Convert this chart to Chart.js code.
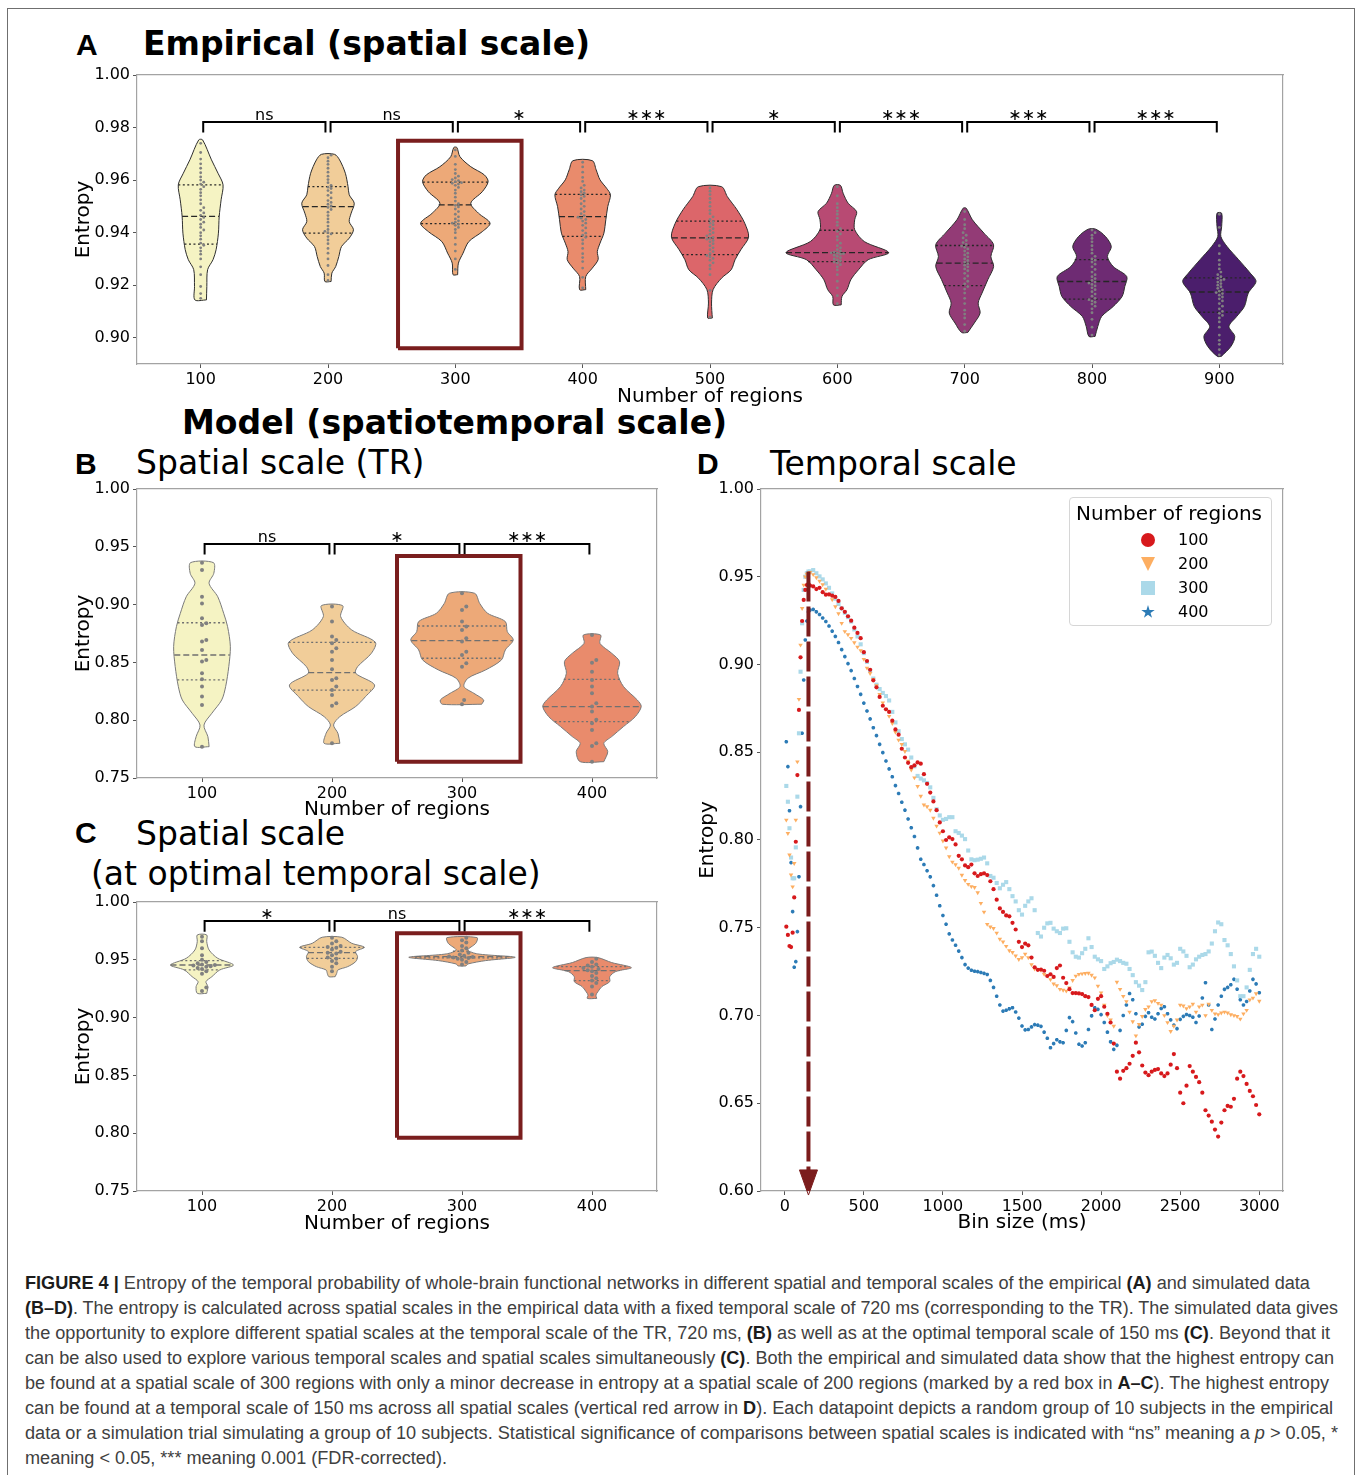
<!DOCTYPE html>
<html>
<head>
<meta charset="utf-8">
<title>Figure 4</title>
<script src="https://cdn.jsdelivr.net/npm/chart.js@4.4.1/dist/chart.umd.min.js"></script>
<style>
  html, body { margin:0; padding:0; background:#fff; }
  body { position:relative; width:1358px; height:1475px; overflow:hidden; font-family:"DejaVu Sans", sans-serif; color:#000; }
  .abs { position:absolute; white-space:nowrap; line-height:1; }
  .frame { position:absolute; left:7px; top:8px; width:1348px; height:1500px; border:1px solid #6f6f6f; box-sizing:border-box; }
  .plabel { font-family:"Liberation Sans", Arial, sans-serif; font-weight:bold; font-size:30px; }
  .ptitle { font-size:33px; }
  .bold { font-weight:bold; }
  canvas { position:absolute; }
  .cap { position:absolute; left:25px; font-family:"Liberation Sans", Arial, sans-serif; font-size:18px; color:#404040; white-space:nowrap; line-height:1; transform-origin:0 0; }
  .cap b { color:#1c1c1c; }
  #legend { position:absolute; left:1069px; top:497px; width:203px; height:129px; border:1px solid #d6d6d6; border-radius:4px; box-sizing:border-box; background:rgba(255,255,255,0.85); }
  .lg { position:absolute; font-size:16px; line-height:1; white-space:nowrap; }
  .mk { position:absolute; width:14px; height:14px; }
</style>
</head>
<body>
<div class="frame"></div>

<div class="abs plabel" style="left:76px; top:30px;">A</div>
<div class="abs ptitle bold" style="left:143px; top:27px;">Empirical (spatial scale)</div>
<div class="abs ptitle bold" style="left:182px; top:406px;">Model (spatiotemporal scale)</div>
<div class="abs plabel" style="left:75px; top:449px;">B</div>
<div class="abs ptitle" style="left:136px; top:446px;">Spatial scale (TR)</div>
<div class="abs plabel" style="left:75px; top:818px;">C</div>
<div class="abs ptitle" style="left:136px; top:817px;">Spatial scale</div>
<div class="abs ptitle" style="left:91px; top:857px;">(at optimal temporal scale)</div>
<div class="abs plabel" style="left:697px; top:449px;">D</div>
<div class="abs ptitle" style="left:770px; top:447px;">Temporal scale</div>

<canvas id="chartA" width="1240" height="360" style="left:60px; top:55px;"></canvas>
<canvas id="chartB" width="615" height="355" style="left:60px; top:470px;"></canvas>
<canvas id="chartC" width="615" height="355" style="left:60px; top:885px;"></canvas>
<canvas id="chartD" width="610" height="770" style="left:690px; top:470px;"></canvas>

<div id="legend">
  <div class="lg" style="left:6px; top:5px; font-size:20px;">Number of regions</div>
  <div class="mk" style="left:71px; top:35px; border-radius:50%; background:#d7191c;"></div>
  <div class="lg" style="left:108px; top:34px;">100</div>
  <div class="mk" style="left:71px; top:59px; background:#fdae61; clip-path:polygon(0 0,100% 0,50% 100%);"></div>
  <div class="lg" style="left:108px; top:58px;">200</div>
  <div class="mk" style="left:71px; top:83px; background:#abd9e9;"></div>
  <div class="lg" style="left:108px; top:82px;">300</div>
  <div class="mk" style="left:71px; top:107px; background:#2c7bb6; clip-path:polygon(50% 0,61% 35%,98% 35%,68% 57%,79% 91%,50% 70%,21% 91%,32% 57%,2% 35%,39% 35%);"></div>
  <div class="lg" style="left:108px; top:106px;">400</div>
</div>

<div class="cap" id="cap0" style="top:1274px;"><b>FIGURE 4 |</b> Entropy of the temporal probability of whole-brain functional networks in different spatial and temporal scales of the empirical <b>(A)</b> and simulated data</div>
<div class="cap" id="cap1" style="top:1299px;"><b>(B–D)</b>. The entropy is calculated across spatial scales in the empirical data with a fixed temporal scale of 720 ms (corresponding to the TR). The simulated data gives</div>
<div class="cap" id="cap2" style="top:1324px;">the opportunity to explore different spatial scales at the temporal scale of the TR, 720 ms, <b>(B)</b> as well as at the optimal temporal scale of 150 ms <b>(C)</b>. Beyond that it</div>
<div class="cap" id="cap3" style="top:1349px;">can be also used to explore various temporal scales and spatial scales simultaneously <b>(C)</b>. Both the empirical and simulated data show that the highest entropy can</div>
<div class="cap" id="cap4" style="top:1374px;">be found at a spatial scale of 300 regions with only a minor decrease in entropy at a spatial scale of 200 regions (marked by a red box in <b>A–C</b>). The highest entropy</div>
<div class="cap" id="cap5" style="top:1399px;">can be found at a temporal scale of 150 ms across all spatial scales (vertical red arrow in <b>D</b>). Each datapoint depicts a random group of 10 subjects in the empirical</div>
<div class="cap" id="cap6" style="top:1424px;">data or a simulation trial simulating a group of 10 subjects. Statistical significance of comparisons between spatial scales is indicated with “ns” meaning a <i>p</i> &gt; 0.05, *</div>
<div class="cap" id="cap7" style="top:1449px;">meaning &lt; 0.05, *** meaning 0.001 (FDR-corrected).</div>

<script>
// ===================== DATA =====================
// ---- Panel A: empirical, spatial scale ----
const A_CATS = [100, 200, 300, 400, 500, 600, 700, 800, 900];
const A_XTICKS = [100, 200, 300, 400, 500, 600, 700, 800, 900];
const A_YTICKS = [0.90, 0.92, 0.94, 0.96, 0.98, 1.00];
const A_COLORS = ['#f5f3c3', '#f1cd99', '#eda978', '#e98b6c', '#dc666a', '#b84a73', '#933b76', '#6e2b73', '#4b1e6c'];
// density outline of each violin: entropy levels (bottom -> top) and relative density at each level
const A_PROF_Y = [
  [0.9144,0.9195,0.9259,0.9297,0.9335,0.9398,0.9461,0.9525,0.9582,0.9626,0.9677,0.9753],
  [0.9214,0.9246,0.9271,0.9309,0.9347,0.9379,0.9411,0.9442,0.9474,0.9512,0.9544,0.9575,0.9626,0.9677,0.9698],
  [0.9240,0.9284,0.9322,0.9366,0.9404,0.9436,0.9474,0.9512,0.9556,0.9594,0.9620,0.9651,0.9689,0.9724],
  [0.9183,0.9233,0.9265,0.9297,0.9328,0.9360,0.9398,0.9449,0.9499,0.9544,0.9569,0.9601,0.9639,0.9674],
  [0.9075,0.9132,0.9183,0.9227,0.9259,0.9297,0.9335,0.9383,0.9436,0.9487,0.9537,0.9575],
  [0.9125,0.9157,0.9183,0.9221,0.9259,0.9297,0.9324,0.9366,0.9411,0.9449,0.9480,0.9512,0.9550,0.9580],
  [0.9020,0.9056,0.9094,0.9132,0.9170,0.9221,0.9271,0.9309,0.9354,0.9398,0.9449,0.9493],
  [0.9005,0.9043,0.9081,0.9119,0.9157,0.9195,0.9233,0.9271,0.9309,0.9347,0.9385,0.9413],
  [0.8929,0.8967,0.9005,0.9043,0.9081,0.9119,0.9170,0.9214,0.9246,0.9297,0.9347,0.9385,0.9423,0.9474]
];
const A_PROF_D = [
  [0.15,0.16,0.18,0.32,0.40,0.46,0.48,0.53,0.58,0.45,0.28,0.05],
  [0.08,0.10,0.20,0.28,0.35,0.55,0.66,0.55,0.60,0.68,0.55,0.52,0.45,0.30,0.17],
  [0.06,0.08,0.20,0.35,0.70,0.90,0.60,0.40,0.70,0.85,0.75,0.40,0.12,0.04],
  [0.08,0.08,0.25,0.40,0.38,0.45,0.55,0.60,0.65,0.72,0.62,0.45,0.35,0.25],
  [0.06,0.04,0.08,0.30,0.55,0.65,0.80,1.00,0.90,0.70,0.45,0.30],
  [0.10,0.12,0.25,0.35,0.55,0.80,1.33,0.70,0.45,0.45,0.50,0.28,0.15,0.08],
  [0.08,0.25,0.40,0.35,0.45,0.60,0.75,0.68,0.75,0.50,0.20,0.04],
  [0.08,0.15,0.25,0.55,0.78,0.85,0.90,0.55,0.40,0.50,0.35,0.10],
  [0.05,0.30,0.40,0.25,0.45,0.65,0.75,0.95,0.80,0.50,0.20,0.04,0.06,0.06]
];
const A_QUART = [
  [0.9356,0.9462,0.9582],[0.9398,0.9499,0.9575],[0.9434,0.9506,0.9592],
  [0.9386,0.9461,0.9546],[0.9316,0.9380,0.9444],[0.9290,0.9324,0.9409],
  [0.9198,0.9284,0.9351],[0.9147,0.9214,0.9297],[0.9097,0.9174,0.9228]
];
const A_POINTS = [
  [0.9150,0.9168,0.9195,0.9240,0.9270,0.9300,0.9318,0.9330,0.9342,0.9352,0.9360,0.9375,0.9388,0.9400,0.9410,0.9420,0.9432,0.9440,0.9450,0.9458,0.9466,0.9475,0.9485,0.9495,0.9510,0.9525,0.9540,0.9552,0.9565,0.9575,0.9585,0.9592,0.9600,0.9612,0.9628,0.9645,0.9662,0.9680,0.9705,0.9740],
  [0.9218,0.9240,0.9275,0.9300,0.9322,0.9340,0.9358,0.9372,0.9385,0.9395,0.9400,0.9405,0.9412,0.9425,0.9440,0.9452,0.9465,0.9478,0.9488,0.9496,0.9502,0.9508,0.9515,0.9522,0.9532,0.9542,0.9552,0.9560,0.9568,0.9573,0.9580,0.9590,0.9602,0.9615,0.9630,0.9645,0.9660,0.9672,0.9685,0.9695],
  [0.9260,0.9300,0.9330,0.9355,0.9380,0.9400,0.9412,0.9420,0.9428,0.9432,0.9436,0.9440,0.9445,0.9452,0.9460,0.9470,0.9480,0.9490,0.9498,0.9504,0.9510,0.9520,0.9535,0.9550,0.9562,0.9572,0.9580,0.9585,0.9588,0.9590,0.9594,0.9598,0.9602,0.9608,0.9615,0.9625,0.9640,0.9660,0.9690,0.9715],
  [0.9190,0.9230,0.9265,0.9290,0.9305,0.9320,0.9340,0.9358,0.9372,0.9382,0.9390,0.9398,0.9408,0.9418,0.9428,0.9436,0.9444,0.9450,0.9455,0.9459,0.9465,0.9472,0.9480,0.9490,0.9500,0.9510,0.9520,0.9530,0.9538,0.9544,0.9550,0.9556,0.9562,0.9570,0.9580,0.9595,0.9610,0.9630,0.9650,0.9668],
  [0.9078,0.9180,0.9240,0.9262,0.9275,0.9285,0.9295,0.9302,0.9308,0.9313,0.9320,0.9328,0.9335,0.9342,0.9350,0.9358,0.9365,0.9370,0.9375,0.9378,0.9382,0.9388,0.9394,0.9400,0.9408,0.9415,0.9422,0.9430,0.9436,0.9442,0.9450,0.9460,0.9472,0.9485,0.9500,0.9515,0.9530,0.9545,0.9558,0.9570],
  [0.9130,0.9160,0.9190,0.9215,0.9240,0.9258,0.9270,0.9278,0.9284,0.9288,0.9292,0.9296,0.9300,0.9305,0.9310,0.9314,0.9318,0.9320,0.9322,0.9323,0.9326,0.9330,0.9335,0.9342,0.9350,0.9360,0.9372,0.9385,0.9395,0.9405,0.9415,0.9428,0.9440,0.9455,0.9470,0.9482,0.9495,0.9510,0.9540,0.9575],
  [0.9025,0.9050,0.9075,0.9090,0.9105,0.9130,0.9150,0.9170,0.9185,0.9195,0.9205,0.9215,0.9225,0.9235,0.9245,0.9255,0.9262,0.9270,0.9276,0.9282,0.9288,0.9294,0.9300,0.9308,0.9315,0.9322,0.9330,0.9338,0.9344,0.9349,0.9355,0.9362,0.9370,0.9380,0.9390,0.9400,0.9415,0.9430,0.9450,0.9480],
  [0.9010,0.9040,0.9070,0.9095,0.9110,0.9120,0.9128,0.9135,0.9140,0.9145,0.9150,0.9158,0.9166,0.9175,0.9183,0.9190,0.9197,0.9203,0.9208,0.9212,0.9218,0.9225,0.9232,0.9240,0.9250,0.9260,0.9270,0.9280,0.9288,0.9295,0.9300,0.9310,0.9322,0.9335,0.9350,0.9365,0.9378,0.9390,0.9400,0.9410],
  [0.8935,0.8955,0.8975,0.8990,0.9010,0.9040,0.9060,0.9075,0.9085,0.9093,0.9100,0.9110,0.9120,0.9130,0.9140,0.9148,0.9155,0.9162,0.9168,0.9172,0.9177,0.9182,0.9188,0.9194,0.9200,0.9206,0.9212,0.9218,0.9222,0.9226,0.9232,0.9240,0.9250,0.9262,0.9278,0.9295,0.9320,0.9350,0.9420,0.9470]
];
const A_PAIRS = [[100,200],[200,300],[300,400],[400,500],[500,600],[600,700],[700,800],[800,900]];
const A_SIG = ['ns','ns','∗','∗∗∗','∗','∗∗∗','∗∗∗','∗∗∗'];

// ---- Panel B: model, spatial scale at TR ----
const B_CATS = [100, 200, 300, 400];
const B_XTICKS = [100, 200, 300, 400];
const B_YTICKS = [0.75, 0.80, 0.85, 0.90, 0.95, 1.00];
const B_COLORS = ['#f5f3c3', '#f1cd99', '#eda978', '#e98b6c'];
const B_PROF_Y = [
  [0.7771,0.7857,0.7958,0.8060,0.8175,0.8290,0.8463,0.8636,0.8809,0.8925,0.9068,0.9184,0.9271,0.9363],
  [0.7800,0.7887,0.7959,0.8031,0.8118,0.8204,0.8305,0.8406,0.8463,0.8579,0.8674,0.8781,0.8896,0.8991],
  [0.8138,0.8175,0.8233,0.8291,0.8363,0.8435,0.8521,0.8608,0.8694,0.8766,0.8853,0.8925,0.9010,0.9098],
  [0.7641,0.7728,0.7800,0.7858,0.7945,0.8031,0.8118,0.8175,0.8291,0.8406,0.8507,0.8579,0.8665,0.8737]
];
const B_PROF_D = [
  [0.18,0.15,0.05,0.25,0.50,0.60,0.68,0.72,0.65,0.55,0.40,0.18,0.30,0.29],
  [0.20,0.15,0.04,0.20,0.60,0.85,1.08,0.60,0.65,1.00,1.10,0.50,0.22,0.27],
  [0.50,0.55,0.30,0.05,0.15,0.60,1.00,1.10,1.30,1.15,1.10,0.65,0.45,0.32],
  [0.30,0.40,0.30,0.50,0.80,1.10,1.25,1.15,0.80,0.65,0.70,0.50,0.20,0.22]
];
const B_QUART = [[0.8348,0.8564,0.8843],[0.8261,0.8411,0.8674],[0.8536,0.8688,0.8815],[0.7988,0.8118,0.8354]];
const B_POINTS = [
  [0.9363,0.9299,0.9068,0.9010,0.8881,0.8838,0.8824,0.8694,0.8680,0.8608,0.8521,0.8507,0.8406,0.8354,0.8291,0.8204,0.8132,0.7771],
  [0.8983,0.8853,0.8723,0.8694,0.8665,0.8622,0.8593,0.8521,0.8440,0.8363,0.8348,0.8291,0.8262,0.8219,0.8147,0.8124,0.7800],
  [0.9098,0.8983,0.8954,0.8853,0.8810,0.8781,0.8709,0.8680,0.8593,0.8564,0.8492,0.8463,0.8175,0.8138],
  [0.8737,0.8521,0.8498,0.8420,0.8348,0.8291,0.8233,0.8147,0.8118,0.8075,0.8003,0.7974,0.7916,0.7800,0.7777,0.7641]
];
const B_PAIRS = [[100,200],[200,300],[300,400]];
const B_SIG = ['ns','∗','∗∗∗'];

// ---- Panel C: model, spatial scale at optimal temporal scale ----
const C_CATS = [100, 200, 300, 400];
const C_XTICKS = [100, 200, 300, 400];
const C_YTICKS = [0.75, 0.80, 0.85, 0.90, 0.95, 1.00];
const C_COLORS = ['#f5f3c3', '#f1cd99', '#eda978', '#e98b6c'];
const C_PROF_Y = [
  [0.9210,0.9268,0.9311,0.9354,0.9412,0.9455,0.9513,0.9585,0.9657,0.9715],
  [0.9354,0.9383,0.9412,0.9441,0.9484,0.9527,0.9571,0.9608,0.9643,0.9695],
  [0.9447,0.9464,0.9493,0.9522,0.9551,0.9585,0.9643,0.9692],
  [0.9166,0.9195,0.9224,0.9268,0.9311,0.9354,0.9398,0.9432,0.9476,0.9519]
];
const C_PROF_D = [
  [0.12,0.15,0.10,0.25,0.45,0.80,0.40,0.18,0.12,0.12],
  [0.08,0.12,0.15,0.40,0.60,0.65,0.60,0.82,0.50,0.25],
  [0.10,0.15,0.60,1.35,0.40,0.15,0.35,0.38],
  [0.12,0.10,0.15,0.25,0.45,0.45,0.60,1.00,0.50,0.15]
];
const C_QUART = [[0.9412,0.9455,0.9493],[0.9513,0.9562,0.9608],[0.9516,0.9527,0.9574],[0.9320,0.9406,0.9441]];
const C_POINTS = [
  [0.9700,0.9660,0.9600,0.9540,0.9500,0.9480,0.9470,0.9460,0.9455,0.9450,0.9445,0.9440,0.9430,0.9420,0.9400,0.9380,0.9260,0.9230],
  [0.9690,0.9660,0.9640,0.9620,0.9610,0.9605,0.9590,0.9570,0.9560,0.9555,0.9540,0.9520,0.9510,0.9490,0.9470,0.9440,0.9400],
  [0.9690,0.9670,0.9650,0.9620,0.9600,0.9580,0.9560,0.9545,0.9535,0.9528,0.9524,0.9520,0.9516,0.9510,0.9500,0.9480,0.9460],
  [0.9510,0.9480,0.9460,0.9450,0.9440,0.9430,0.9420,0.9410,0.9400,0.9385,0.9360,0.9340,0.9320,0.9300,0.9270,0.9200]
];
const C_PAIRS = [[100,200],[200,300],[300,400]];
const C_SIG = ['∗','ns','∗∗∗'];

// ---- Panel D: temporal scale ----
const D_XTICKS = [0, 500, 1000, 1500, 2000, 2500, 3000];
const D_YTICKS = [0.60, 0.65, 0.70, 0.75, 0.80, 0.85, 0.90, 0.95, 1.00];
const D_LABELS = ['100', '200', '300', '400'];
const D_BINS = [];
for (let b = 10; b <= 150; b += 10) D_BINS.push(b);
for (let b = 160; b <= 3000; b += 20) D_BINS.push(b);
const D_R100 = [
  0.7506,0.7459,0.7396,0.7390,0.7472,0.7673,0.7990,0.8370,0.8741,0.9041,0.9248,0.9368,0.9425,0.9453,0.9460,
  0.9450,0.9445,0.9430,0.9437,0.9412,0.9398,0.9400,0.9392,0.9385,0.9362,
  0.9320,0.9300,0.9275,0.9250,0.9210,0.9180,0.9150,0.9070,0.9020,0.8970,
  0.8910,0.8870,0.8815,0.8765,0.8745,0.8730,0.8680,0.8630,0.8600,0.8520,
  0.8470,0.8440,0.8415,0.8425,0.8442,0.8435,0.8375,0.8320,0.8270,0.8220,
  0.8170,0.8100,0.8050,0.8000,0.8015,0.8005,0.7975,0.7910,0.7890,0.7855,
  0.7845,0.7860,0.7810,0.7795,0.7805,0.7810,0.7800,0.7765,0.7720,0.7660,
  0.7610,0.7590,0.7570,0.7565,0.7528,0.7490,0.7420,0.7390,0.7410,0.7400,
  0.7330,0.7275,0.7260,0.7262,0.7255,0.7225,0.7235,0.7220,0.7270,0.7285,
  0.7215,0.7185,0.7150,0.7128,0.7128,0.7126,0.7122,0.7110,0.7105,0.7060,
  0.7030,0.7095,0.7110,0.7050,0.7010,0.6960,0.6840,0.6680,0.6640,0.6685,
  0.6700,0.6725,0.6770,0.6845,0.6790,0.6715,0.6675,0.6660,0.6680,0.6690,
  0.6695,0.6670,0.6655,0.6670,0.6720,0.6780,0.6700,0.6560,0.6500,0.6600,
  0.6712,0.6680,0.6650,0.6620,0.6560,0.6460,0.6430,0.6395,0.6350,0.6310,
  0.6390,0.6460,0.6485,0.6480,0.6525,0.6640,0.6680,0.6655,0.6610,0.6570,
  0.6540,0.6490,0.6437
];
const D_R200 = [
  0.8114,0.8038,0.7915,0.7801,0.7734,0.7867,0.8114,0.8446,0.8802,0.9111,0.9320,0.9453,0.9500,0.9515,0.9520,
  0.9525,0.9513,0.9495,0.9475,0.9455,0.9430,0.9399,0.9370,0.9330,0.9290,
  0.9235,0.9188,0.9170,0.9150,0.9125,0.9100,0.9080,0.9030,0.8980,0.8950,
  0.8915,0.8880,0.8830,0.8782,0.8745,0.8705,0.8665,0.8615,0.8570,0.8545,
  0.8505,0.8450,0.8400,0.8355,0.8306,0.8250,0.8200,0.8190,0.8170,0.8125,
  0.8080,0.8040,0.7995,0.7955,0.7905,0.7875,0.7860,0.7840,0.7800,0.7770,
  0.7748,0.7735,0.7730,0.7700,0.7640,0.7590,0.7520,0.7505,0.7497,0.7470,
  0.7435,0.7420,0.7395,0.7370,0.7360,0.7340,0.7320,0.7330,0.7350,0.7330,
  0.7290,0.7265,0.7262,0.7258,0.7235,0.7225,0.7205,0.7180,0.7170,0.7150,
  0.7145,0.7140,0.7158,0.7200,0.7225,0.7235,0.7238,0.7240,0.7242,0.7230,
  0.7215,0.7168,0.7130,0.7060,0.7000,0.6975,0.6940,0.7190,0.7150,0.7110,
  0.7080,0.7020,0.6965,0.6885,0.6950,0.6995,0.7035,0.7050,0.7080,0.7085,
  0.7070,0.7060,0.7000,0.6960,0.6910,0.6940,0.6975,0.7060,0.7055,0.7040,
  0.7050,0.7065,0.7020,0.7050,0.7060,0.7000,0.7065,0.7030,0.7010,0.7006,
  0.7015,0.7020,0.7015,0.7005,0.7000,0.6995,0.6980,0.7010,0.7030,0.7090,
  0.7100,0.7125,0.7082
];
const D_R300 = [
  0.8308,0.8218,0.8067,0.7900,0.7782,0.7782,0.7958,0.8247,0.8608,0.8959,0.9235,0.9425,0.9500,0.9520,0.9530,
  0.9530,0.9538,0.9520,0.9502,0.9485,0.9462,0.9437,0.9405,0.9375,0.9345,
  0.9320,0.9295,0.9270,0.9245,0.9200,0.9160,0.9115,0.9065,0.9015,0.8965,
  0.8920,0.8885,0.8860,0.8838,0.8820,0.8795,0.8730,0.8670,0.8620,0.8575,
  0.8545,0.8515,0.8470,0.8420,0.8365,0.8350,0.8340,0.8325,0.8300,0.8240,
  0.8175,0.8140,0.8115,0.8120,0.8130,0.8130,0.8050,0.8040,0.8025,0.8005,
  0.7940,0.7890,0.7885,0.7888,0.7893,0.7900,0.7867,0.7795,0.7785,0.7755,
  0.7725,0.7745,0.7760,0.7720,0.7680,0.7650,0.7600,0.7575,0.7625,0.7650,
  0.7668,0.7600,0.7470,0.7450,0.7500,0.7525,0.7528,0.7495,0.7480,0.7470,
  0.7495,0.7497,0.7420,0.7360,0.7335,0.7330,0.7355,0.7380,0.7440,0.7390,
  0.7335,0.7320,0.7310,0.7265,0.7280,0.7298,0.7305,0.7318,0.7310,0.7300,
  0.7295,0.7265,0.7230,0.7190,0.7170,0.7145,0.7190,0.7360,0.7364,0.7340,
  0.7300,0.7270,0.7330,0.7345,0.7326,0.7290,0.7300,0.7380,0.7365,0.7340,
  0.7275,0.7290,0.7320,0.7335,0.7345,0.7350,0.7365,0.7410,0.7480,0.7530,
  0.7520,0.7430,0.7400,0.7350,0.7280,0.7200,0.7110,0.7110,0.7160,0.7260,
  0.7350,0.7380,0.7335
];
const D_R400 = [
  0.8560,0.8418,0.8167,0.7871,0.7592,0.7275,0.7307,0.7478,0.7791,0.8190,0.8608,0.8912,0.9140,0.9248,0.9300,
  0.9310,0.9314,0.9300,0.9285,0.9265,0.9245,0.9219,0.9190,0.9160,0.9125,
  0.9085,0.9045,0.9005,0.8965,0.8920,0.8875,0.8830,0.8780,0.8735,0.8690,
  0.8640,0.8595,0.8545,0.8498,0.8450,0.8405,0.8360,0.8310,0.8265,0.8215,
  0.8170,0.8120,0.8070,0.8020,0.7955,0.7890,0.7860,0.7825,0.7790,0.7740,
  0.7685,0.7625,0.7570,0.7520,0.7465,0.7430,0.7400,0.7367,0.7330,0.7290,
  0.7270,0.7258,0.7252,0.7250,0.7245,0.7240,0.7234,0.7200,0.7160,0.7110,
  0.7060,0.7025,0.7030,0.7038,0.7044,0.7020,0.6985,0.6940,0.6918,0.6920,
  0.6935,0.6948,0.6945,0.6938,0.6905,0.6870,0.6816,0.6840,0.6862,0.6850,
  0.6845,0.6915,0.6988,0.6965,0.6900,0.6836,0.6826,0.6845,0.6920,0.6998,
  0.7044,0.7035,0.7005,0.6960,0.6905,0.6850,0.6807,0.6830,0.6915,0.7000,
  0.7060,0.7125,0.7090,0.7010,0.6935,0.6950,0.6995,0.7016,0.6990,0.6980,
  0.7010,0.7040,0.7050,0.7010,0.6975,0.6945,0.6925,0.6978,0.6995,0.7006,
  0.7000,0.6990,0.6960,0.6997,0.7100,0.7187,0.7060,0.6920,0.6980,0.7060,
  0.7110,0.7149,0.7160,0.7175,0.7206,0.7150,0.7090,0.7060,0.7080,0.7140,
  0.7206,0.7180,0.7130
];
// optimal temporal scale marked by the arrow (ms)
const D_OPTIMAL_BIN = 150;

// ===================== STYLE / LAYOUT =====================
const FRAME_COLOR = '#a3a3a3';
const TICK_COLOR = '#555555';
const BOX_COLOR = '#7a1e1e';
const ARROW_COLOR = '#7b1c1c';
const VIOLIN_SCALE = 30.3;     // x-units of half width per unit of relative density
const BRACKET_INSET = 2;       // x-units
const SERIES_COLORS = ['#d7191c', '#fdae61', '#abd9e9', '#2c7bb6'];

Chart.defaults.font.family = '"DejaVu Sans", sans-serif';
Chart.defaults.font.size = 16;
Chart.defaults.color = '#000';

function densAt(ys, ds, q) {
  for (let i = 0; i < ys.length - 1; i++) {
    if (q >= ys[i] && q <= ys[i + 1]) {
      const t = (q - ys[i]) / (ys[i + 1] - ys[i]);
      return ds[i] + t * (ds[i + 1] - ds[i]);
    }
  }
  return q < ys[0] ? ds[0] : ds[ds.length - 1];
}

function makeScales(o) {
  return {
    x: {
      type: 'linear', position: 'bottom', min: o.xmin, max: o.xmax,
      afterBuildTicks: s => { s.ticks = o.xticks.map(v => ({ value: v })); },
      afterFit: s => { s.height = o.xH; },
      ticks: { autoSkip: false, maxRotation: 0, padding: 2, color: '#000', font: { size: 16 }, callback: v => String(v) },
      grid: { display: true, drawOnChartArea: false, drawTicks: true, tickLength: 4, color: TICK_COLOR, lineWidth: 1 },
      border: { display: true, color: FRAME_COLOR, width: 1.2 },
      title: { display: true, text: o.xTitle, color: '#000', font: { size: 20 }, padding: { top: 0, bottom: o.xTitlePad } }
    },
    y: {
      type: 'linear', position: 'left', min: o.ymin, max: o.ymax,
      afterBuildTicks: s => { s.ticks = o.yticks.map(v => ({ value: v })); },
      afterFit: s => { s.width = o.yW; },
      ticks: { autoSkip: false, padding: 3, color: '#000', font: { size: 16 }, callback: v => Number(v).toFixed(2) },
      grid: { display: true, drawOnChartArea: false, drawTicks: true, tickLength: 4, color: TICK_COLOR, lineWidth: 1 },
      border: { display: true, color: FRAME_COLOR, width: 1.2 },
      title: { display: true, text: 'Entropy', color: '#000', font: { size: 20 }, padding: { top: o.yTitlePad, bottom: 0 } }
    },
    xTop: {
      type: 'linear', position: 'top', min: o.xmin, max: o.xmax,
      ticks: { display: false }, grid: { display: false, drawTicks: false },
      border: { display: true, color: FRAME_COLOR, width: 1.2 },
      afterFit: s => { s.height = 0; }
    },
    yRight: {
      type: 'linear', position: 'right', min: o.ymin, max: o.ymax,
      ticks: { display: false }, grid: { display: false, drawTicks: false },
      border: { display: true, color: FRAME_COLOR, width: 1.2 },
      afterFit: s => { s.width = 0; }
    }
  };
}

const sigTextPlugin = {
  id: 'sigText',
  afterDatasetsDraw(chart, args, opts) {
    if (!opts || !opts.items) return;
    const ctx = chart.ctx, xs = chart.scales.x, ys = chart.scales.y;
    ctx.save();
    ctx.font = '16px "DejaVu Sans", sans-serif';
    ctx.fillStyle = '#000';
    ctx.textAlign = 'center';
    ctx.textBaseline = 'alphabetic';
    opts.items.forEach(it => ctx.fillText(it.text, xs.getPixelForValue(it.x), ys.getPixelForValue(it.y) - 2));
    ctx.restore();
  }
};

function applySwarm(chart, dsIndex, cats, pointsArr, radius) {
  const xs = chart.scales.x, ys = chart.scales.y;
  const pxPerUnit = xs.getPixelForValue(1) - xs.getPixelForValue(0);
  const dmin = radius * 2 + 0.3;
  const out = [];
  cats.forEach((c, i) => {
    const placed = [];
    const vals = pointsArr[i].slice().sort((a, b) => a - b);
    vals.forEach(v => {
      const py = ys.getPixelForValue(v);
      let chosen = 0;
      for (let k = 0; k < 80; k++) {
        const m = k === 0 ? 0 : (k % 2 ? 1 : -1) * Math.ceil(k / 2);
        const off = m * dmin * 0.5;
        let ok = true;
        for (const p of placed) {
          const dx = p.x - off, dy = p.y - py;
          if (dx * dx + dy * dy < dmin * dmin) { ok = false; break; }
        }
        if (ok) { chosen = off; break; }
      }
      placed.push({ x: chosen, y: py });
      out.push({ x: c + chosen / pxPerUnit, y: v });
    });
  });
  chart.data.datasets[dsIndex].data = out;
}

function buildViolinChart(id, cfg) {
  const datasets = [];
  cfg.cats.forEach((c, i) => {
    const ys = cfg.profY[i], ds = cfg.profD[i];
    const poly = [];
    for (let k = 0; k < ys.length; k++) poly.push({ x: c + ds[k] * VIOLIN_SCALE, y: ys[k] });
    for (let k = ys.length - 1; k >= 0; k--) poly.push({ x: c - ds[k] * VIOLIN_SCALE, y: ys[k] });
    poly.push({ x: poly[0].x, y: poly[0].y });
    datasets.push({ data: poly, showLine: true, fill: 'shape', backgroundColor: cfg.colors[i],
      borderColor: cfg.edge, borderWidth: 1, pointRadius: 0, tension: 0.3, order: 6 });
    cfg.quart[i].forEach((q, j) => {
      const hw = densAt(ys, ds, q) * VIOLIN_SCALE;
      datasets.push({ data: [{ x: c - hw, y: q }, { x: c + hw, y: q }], showLine: true,
        borderColor: cfg.qColor, borderWidth: 1.3, borderDash: j === 1 ? [6, 3] : [2, 2.5],
        pointRadius: 0, order: 5 });
    });
  });
  const swarmIndex = datasets.length;
  datasets.push({ data: [], pointRadius: cfg.ptR, pointBackgroundColor: '#808080', pointBorderWidth: 0, order: 4 });
  const sigItems = [];
  cfg.pairs.forEach((p, i) => {
    const x1 = p[0] + BRACKET_INSET, x2 = p[1] - BRACKET_INSET;
    datasets.push({ data: [{ x: x1, y: cfg.brDrop }, { x: x1, y: cfg.brY }, { x: x2, y: cfg.brY }, { x: x2, y: cfg.brDrop }],
      showLine: true, borderColor: '#000', borderWidth: 2, pointRadius: 0, order: 2 });
    sigItems.push({ x: (p[0] + p[1]) / 2, y: cfg.brY, text: cfg.sig[i] });
  });
  const b = cfg.box;
  datasets.push({ data: [{ x: b[0], y: b[2] }, { x: b[1], y: b[2] }, { x: b[1], y: b[3] }, { x: b[0], y: b[3] }, { x: b[0], y: b[2] }],
    showLine: true, borderColor: BOX_COLOR, borderWidth: 4, borderJoinStyle: 'miter', pointRadius: 0, order: 1, clip: false });

  const chart = new Chart(document.getElementById(id), {
    type: 'scatter',
    data: { datasets },
    options: {
      responsive: false, animation: false, events: [],
      layout: { padding: { left: 0, right: cfg.rp, top: cfg.tp, bottom: 0 } },
      plugins: { legend: { display: false }, tooltip: { enabled: false }, sigText: { items: sigItems } },
      scales: makeScales(cfg)
    },
    plugins: [sigTextPlugin]
  });
  applySwarm(chart, swarmIndex, cfg.cats, cfg.points, cfg.ptR);
  chart.update('none');
  return chart;
}

buildViolinChart('chartA', {
  cats: A_CATS, profY: A_PROF_Y, profD: A_PROF_D, quart: A_QUART, points: A_POINTS, colors: A_COLORS,
  pairs: A_PAIRS, sig: A_SIG, edge: '#2e2e2e', qColor: '#262626', ptR: 1.4,
  brY: 0.9821, brDrop: 0.9781, box: [255, 352, 0.896, 0.975],
  xmin: 50, xmax: 950, xticks: A_XTICKS, ymin: 0.89, ymax: 1.00, yticks: A_YTICKS,
  xTitle: 'Number of regions', yW: 77, xH: 51, xTitlePad: 6, yTitlePad: 12, tp: 20, rp: 17
});
buildViolinChart('chartB', {
  cats: B_CATS, profY: B_PROF_Y, profD: B_PROF_D, quart: B_QUART, points: B_POINTS, colors: B_COLORS,
  pairs: B_PAIRS, sig: B_SIG, edge: '#7a7a7a', qColor: '#707070', ptR: 2.0,
  brY: 0.9524, brDrop: 0.9434, box: [250, 345, 0.764, 0.942],
  xmin: 50, xmax: 450, xticks: B_XTICKS, ymin: 0.75, ymax: 1.00, yticks: B_YTICKS,
  xTitle: 'Number of regions', yW: 77, xH: 47, xTitlePad: 3, yTitlePad: 12, tp: 19, rp: 18
});
buildViolinChart('chartC', {
  cats: C_CATS, profY: C_PROF_Y, profD: C_PROF_D, quart: C_QUART, points: C_POINTS, colors: C_COLORS,
  pairs: C_PAIRS, sig: C_SIG, edge: '#7a7a7a', qColor: '#707070', ptR: 2.0,
  brY: 0.9836, brDrop: 0.9743, box: [250, 345, 0.796, 0.973],
  xmin: 50, xmax: 450, xticks: C_XTICKS, ymin: 0.75, ymax: 1.00, yticks: C_YTICKS,
  xTitle: 'Number of regions', yW: 77, xH: 49, xTitlePad: 4, yTitlePad: 12, tp: 17, rp: 18
});

// ---- Panel D chart ----
(function () {
  const series = [D_R100, D_R200, D_R300, D_R400];
  const styles = [
    { pointStyle: 'circle', pointRadius: 2.1, pointRotation: 0, pointBorderWidth: 0 },
    { pointStyle: 'triangle', pointRadius: 2.6, pointRotation: 180, pointBorderWidth: 0 },
    { pointStyle: 'rect', pointRadius: 2.9, pointRotation: 0, pointBorderWidth: 0 },
    { pointStyle: 'star', pointRadius: 1.8, pointRotation: 0, pointBorderWidth: 1.3 }
  ];
  const datasets = [];
  // arrow marking the optimal temporal scale
  const arrowTop = 0.953, arrowBase = 0.612, arrowTip = 0.5977, headHalf = 57;
  datasets.push({ data: [{ x: D_OPTIMAL_BIN, y: arrowTop }, { x: D_OPTIMAL_BIN, y: arrowBase }], showLine: true,
    borderColor: ARROW_COLOR, borderWidth: 4, borderDash: [30, 5], pointRadius: 0, order: 0, clip: false });
  datasets.push({ data: [{ x: D_OPTIMAL_BIN - headHalf, y: arrowBase }, { x: D_OPTIMAL_BIN + headHalf, y: arrowBase },
    { x: D_OPTIMAL_BIN, y: arrowTip }, { x: D_OPTIMAL_BIN - headHalf, y: arrowBase }], showLine: true, fill: 'shape',
    backgroundColor: ARROW_COLOR, borderColor: ARROW_COLOR, borderWidth: 1, pointRadius: 0, order: 0, clip: false });
  // draw order: 100 on top, then 200, 300, 400
  series.forEach((vals, i) => {
    datasets.push(Object.assign({
      label: D_LABELS[i],
      data: vals.map((y, k) => ({ x: D_BINS[k], y })),
      pointBackgroundColor: SERIES_COLORS[i], pointBorderColor: SERIES_COLORS[i],
      order: 1 + i
    }, styles[i]));
  });
  new Chart(document.getElementById('chartD'), {
    type: 'scatter',
    data: { datasets },
    options: {
      responsive: false, animation: false, events: [],
      layout: { padding: { left: 0, right: 17, top: 19, bottom: 0 } },
      plugins: { legend: { display: false }, tooltip: { enabled: false } },
      scales: makeScales({ xmin: -150, xmax: 3150, xticks: D_XTICKS, ymin: 0.60, ymax: 1.00, yticks: D_YTICKS,
        xTitle: 'Bin size (ms)', yW: 71, xH: 49, xTitlePad: 5, yTitlePad: 6 })
    }
  });
})();

// ---- fit caption lines to their measured widths in the figure ----
const CAP_RIGHT = [1310, 1338, 1330, 1334, 1329, 1333, 1338, 447];
CAP_RIGHT.forEach((r, i) => {
  const el = document.getElementById('cap' + i);
  const w = el.getBoundingClientRect().width;
  if (w > 0) el.style.transform = 'scaleX(' + ((r - 25) / w).toFixed(4) + ')';
});
</script>
</body>
</html>
